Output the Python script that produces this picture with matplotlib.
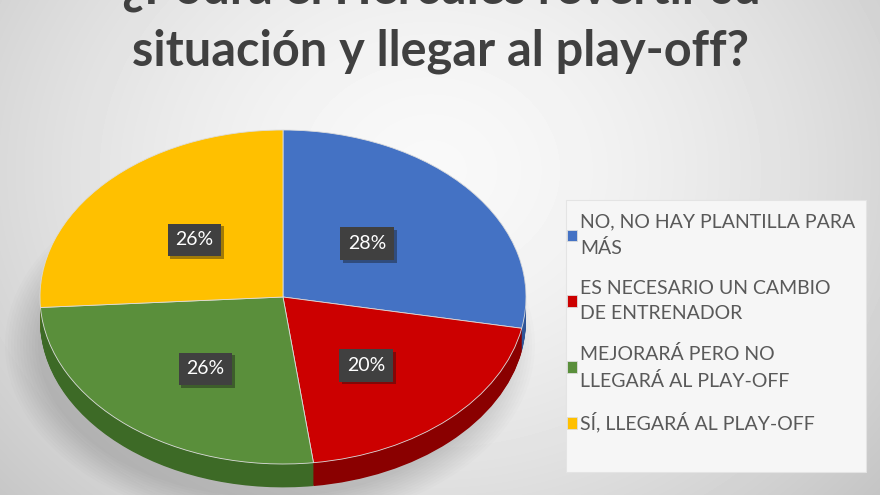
import numpy as np
import matplotlib.pyplot as plt
from matplotlib.patches import Rectangle, Ellipse
import matplotlib.patheffects as pe

# data
labels = ["NO, NO HAY PLANTILLA PARA\nMÁS",
          "ES NECESARIO UN CAMBIO\nDE ENTRENADOR",
          "MEJORARÁ PERO NO\nLLEGARÁ AL PLAY-OFF",
          "SÍ, LLEGARÁ AL PLAY-OFF"]
values = [28, 20, 26, 26]
colors = ["#4472c4", "#cc0000", "#5a8f3b", "#ffc000"]
side_colors = ["#2f5597", "#8a0000", "#3d6a26", "#bf9000"]
title1 = "¿Podrá el Hércules revertir su"
title2 = "situación y llegar al play-off?"

W, H = 880, 495
fig = plt.figure(figsize=(W / 100, H / 100), dpi=100)

# background gradient
bg = fig.add_axes([0, 0, 1, 1])
yy, xx = np.mgrid[0:H, 0:W]
d = np.sqrt(((xx - 430) / 620) ** 2 + ((yy - 170) / 520) ** 2)
shade = 0.975 - 0.22 * d ** 1.6
bg.imshow(np.clip(shade, 0, 1), cmap="gray", vmin=0, vmax=1, extent=[0, W, H, 0], aspect="auto")
bg.set_xlim(0, W)
bg.set_ylim(H, 0)
bg.axis("off")

# soft shadow under the pie
for i in range(12):
    bg.add_patch(Ellipse((270, 345), 530 - i * 6, 360 - i * 5, fc="#000000", alpha=0.013, ec="none"))

# title (first line mostly above the top edge, as in the source image)
fig.text(441 / W, 1 - 4 / H, title1, ha="center", va="baseline", fontsize=35,
         fontweight="bold", family="Lato", color="#404040")
fig.text(441 / W, 1 - 65 / H, title2, ha="center", va="baseline", fontsize=35,
         fontweight="bold", family="Lato", color="#404040")

# pie axes: ellipse center (283, 297), rx 243, ry 167
cx, cy, rx, ry = 283, 297, 243, 167
ylo = -1.2
ax = fig.add_axes([(cx - rx) / W, 1 - (cy - ylo * ry) / H, 2 * rx / W, (1 - ylo) * ry / H])

depth = 0.14
n = 30
for k in range(n, 0, -1):
    ax.pie(values, colors=side_colors, startangle=90, counterclock=False,
           center=(0, -depth * k / n), wedgeprops=dict(linewidth=0))

wedges, texts, autotexts = ax.pie(
    values, colors=colors, startangle=90, counterclock=False,
    autopct="%1.0f%%", pctdistance=0.5,
    wedgeprops=dict(linewidth=0.6, edgecolor="#dddddd"),
    textprops=dict(color="white", fontsize=14, family="Lato",
                   bbox=dict(boxstyle="square,pad=0.4", fc="#404040", ec="none")))
for t in autotexts:
    t.get_bbox_patch().set_path_effects([pe.SimplePatchShadow(offset=(2, -2), alpha=0.4), pe.Normal()])
    x, y = t.get_position()
    if y < 0:
        t.set_position((x, y - 0.045))
    elif x > 0:
        t.set_position((x - 0.04, y))

ax.set_aspect("auto")
ax.set_xlim(-1, 1)
ax.set_ylim(ylo, 1)
ax.axis("off")

# legend box
bg.add_patch(Rectangle((566, 200), 300, 272, fc="#f6f6f6", ec="#e4e4e4", lw=0.8))
leg = fig.legend(wedges, labels, loc="upper left", bbox_to_anchor=(549 / W, 1 - 196 / H),
                 frameon=False, prop=dict(family="Lato", size=14), labelcolor="#595959",
                 handlelength=0.55, handleheight=0.55, handletextpad=0.15, labelspacing=1.15)
for t in leg.get_texts():
    t.set_linespacing(1.6)

fig.savefig("out.png", dpi=100)
